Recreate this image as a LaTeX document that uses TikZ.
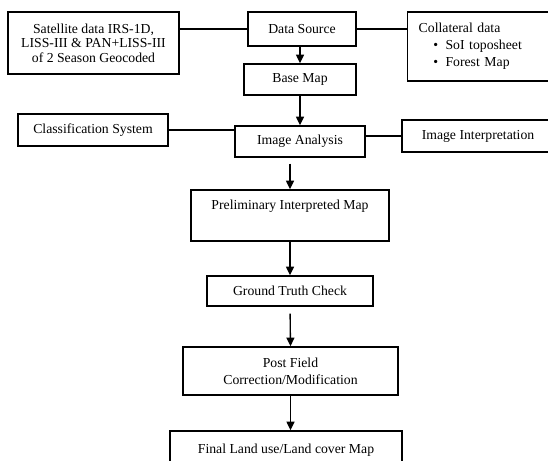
\documentclass[tikz,border=0pt]{standalone}
\usepackage{fontspec}
\setmainfont{Liberation Serif}
\usepackage{tikz}
\usetikzlibrary{arrows.meta,positioning}
\newcommand{\pu}{0.75pt}
\tikzset{
  flowbox/.style={draw, line width=1.1pt, inner sep=0pt, align=center,
    font=\fontsize{10.3}{11}\selectfont},
  flowline/.style={line width=1pt},
  flowarrow/.style={line width=1pt, -{Triangle[length=6.5pt,width=6pt]}}
}

\begin{document}
\begin{tikzpicture}[x=\pu, y=-\pu]
      \useasboundingbox (0,0) rectangle (548,460);
      \clip (0,0) rectangle (548,460);

      % --- top row: sources ---
      \node[flowbox, minimum width=171*\pu, minimum height=62*\pu] (sat) at (93.5,43)
        {Satellite data IRS-1D,\\ LISS-III \& PAN+LISS-III\\ of 2 Season Geocoded};
      \node[flowbox, minimum width=108*\pu, minimum height=34*\pu] (src) at (302,29) {Data Source};
      \node[flowbox, anchor=west, align=left, text width=150*\pu, inner xsep=11*\pu,
        minimum height=69*\pu] (coll) at (407,46.5)
        {Collateral data\\[1.75pt]
         \hspace*{11pt}\textbullet\hspace{5.5pt}SoI toposheet\\[1.75pt]
         \hspace*{11pt}\textbullet\hspace{5.5pt}Forest Map};

      % --- base map and analysis row ---
      \node[flowbox, minimum width=112*\pu, minimum height=31*\pu] (base) at (300,79.5) {Base Map};
      \node[flowbox, minimum width=150*\pu, minimum height=32*\pu] (cls) at (93,130) {Classification System};
      \node[flowbox, minimum width=130*\pu, minimum height=31*\pu] (ana) at (300,141.5) {Image Analysis};
      \node[flowbox, minimum width=152*\pu, minimum height=32*\pu] (interp) at (478,136) {Image Interpretation};

      % --- main column ---
      \node[flowbox, minimum width=198*\pu, minimum height=51*\pu] (pre) at (290,215.5)
        {Preliminary Interpreted Map\\[5pt]~};
      \node[flowbox, minimum width=166*\pu, minimum height=30*\pu] (gtc) at (290,291) {Ground Truth Check};
      \node[flowbox, minimum width=215*\pu, minimum height=48*\pu] (post) at (290.5,371)
        {Post Field\\[1.5pt] Correction/Modification};
      \node[flowbox, minimum width=232*\pu, minimum height=38*\pu] (fin) at (286,450)
        {\raisebox{2.25pt}{Final Land use/Land cover Map}};

      % side links
      \draw[flowline] (sat.east |- src.west) -- (src.west);
      \draw[flowline] (src.east) -- (src.east -| coll.west);
      \draw[flowline] (cls.east) -- (cls.east -| ana.west);
      \draw[flowline] (interp.west -| ana.east) -- (interp.west);

      % arrows down
      \draw[flowarrow] (base.north |- src.south) -- (base.north);
      \draw[flowarrow] (base.south) -- (ana.north);
      \draw[flowarrow, shorten <=6*\pu] (pre.north |- ana.south) -- (pre.north);
      \draw[flowarrow] (pre.south) -- (gtc.north);
      \draw[flowarrow, shorten <=7*\pu] (gtc.south) -- (post.north);
      \draw[flowarrow] (post.south) -- (post.south |- fin.north);
    \end{tikzpicture}
\end{document}
